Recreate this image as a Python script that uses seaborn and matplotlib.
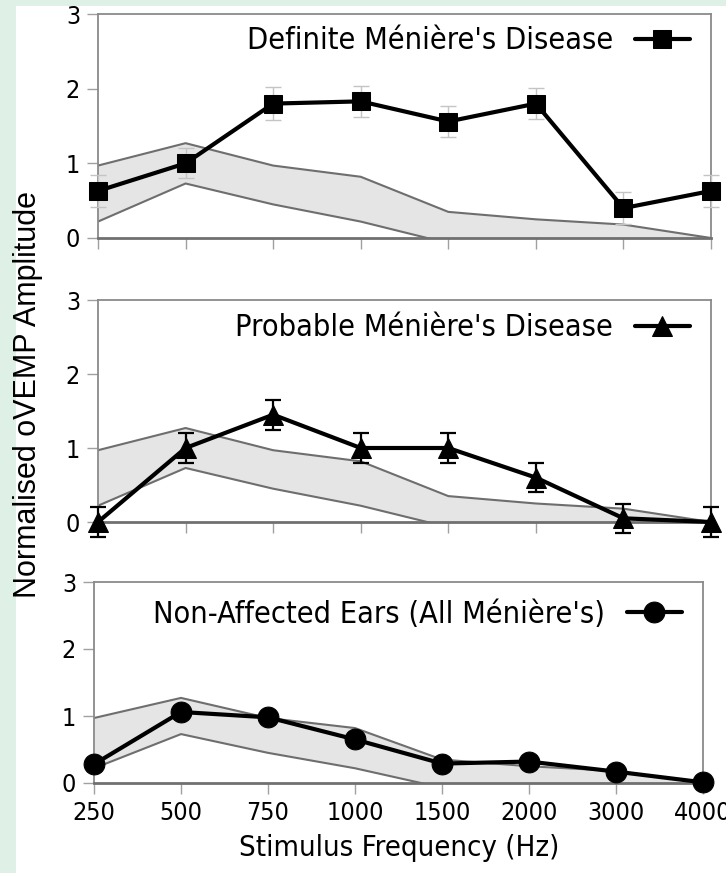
import pandas as pd
import seaborn as sns
import matplotlib.pyplot as plt
from matplotlib.patches import Rectangle

freqs = ["250", "500", "750", "1000", "1500", "2000", "3000", "4000"]

# normal range (shaded band)
band_upper = [0.97, 1.27, 0.97, 0.82, 0.35, 0.25, 0.18, 0.0]
band_lower = [0.22, 0.73, 0.45, 0.22, -0.07, -0.2, -0.3, -0.4]

definite = [0.63, 1.00, 1.80, 1.83, 1.56, 1.80, 0.40, 0.63]
definite_err = [0.22, 0.20, 0.22, 0.21, 0.21, 0.21, 0.21, 0.22]

probable = [0.00, 1.00, 1.45, 1.00, 1.00, 0.60, 0.05, 0.00]
probable_err = [0.20, 0.20, 0.20, 0.20, 0.20, 0.20, 0.20, 0.20]

nonaffected = [0.28, 1.06, 0.98, 0.65, 0.29, 0.32, 0.17, 0.01]
nonaffected_err = [0.07, 0.07, 0.06, 0.07, 0.06, 0.06, 0.06, 0.05]

panels = [
    ("Definite Ménière's Disease", definite, definite_err, "s", 12.5, "#c4c4c4", 1.0),
    ("Probable Ménière's Disease", probable, probable_err, "^", 15, "black", 1.6),
    ("Non-Affected Ears (All Ménière's)", nonaffected, nonaffected_err, "o", 15, "black", 1.6),
]

sns.set_style("white")
plt.rcParams["font.family"] = ["DejaVu Sans"]
plt.rcParams["font.stretch"] = "condensed"
plt.rcParams["text.color"] = "black"
plt.rcParams["ytick.labelcolor"] = "black"
plt.rcParams["xtick.labelcolor"] = "black"

fig = plt.figure(figsize=(7.26, 8.73), dpi=100)
fig.patch.set_facecolor("#dff0e6")
fig.patches.append(Rectangle((16 / 726, 0), 1, 1 - 6 / 873, transform=fig.transFigure,
                             facecolor="white", edgecolor="none", zorder=-10))

positions = [
    [98 / 726, 1 - 238 / 873, 613 / 726, 224 / 873],
    [98 / 726, 1 - 522 / 873, 613 / 726, 222 / 873],
    [94 / 726, 1 - 783 / 873, 609 / 726, 201 / 873],
]
legend_y = [0.88, 0.875, 0.84]

idx = list(range(len(freqs)))
for i, (name, vals, errs, mk, ms, ecol, elw) in enumerate(panels):
    ax = fig.add_axes(positions[i])
    ax.set_facecolor("white")

    # shaded normal band
    ax.fill_between(idx, band_lower, band_upper, color="#e5e5e5", lw=0, zorder=1)
    ax.plot(idx, band_upper, color="#6e6e6e", lw=1.5, zorder=2)
    ax.plot(idx, band_lower, color="#6e6e6e", lw=1.5, zorder=2)

    df = pd.DataFrame({"x": idx, "y": vals})
    ax.errorbar(idx, vals, yerr=errs, fmt="none", ecolor=ecol, elinewidth=elw,
                capsize=6, capthick=elw, zorder=3, clip_on=False)
    sns.lineplot(data=df, x="x", y="y", ax=ax, color="black", lw=3, marker=mk,
                 markersize=ms, markeredgecolor="black", label=name, zorder=4,
                 clip_on=False)

    ax.set_xlim(0, 7)
    ax.set_ylim(0, 3)
    ax.set_yticks([0, 1, 2, 3])
    ax.set_xticks(idx)
    if i == 2:
        ax.set_xticklabels(freqs)
    else:
        ax.set_xticklabels([])
    ax.set_xlabel("")
    ax.set_ylabel("")
    ax.tick_params(axis="both", which="both", direction="out", length=8, width=1,
                   color="#a0a0a0", labelsize=18, pad=5, bottom=True, left=True)
    for s in ax.spines.values():
        s.set_color("#8a8a8a")
        s.set_linewidth(1.3)
    ax.spines["bottom"].set_color("#707070")
    ax.spines["bottom"].set_linewidth(2)

    leg = ax.legend(loc="center right", bbox_to_anchor=(1.0, legend_y[i]), frameon=False,
                    markerfirst=False, fontsize=22, handlelength=1.8, borderaxespad=0.3,
                    handletextpad=0.7)

fig.text(0.038, 0.548, "Normalised oVEMP Amplitude", rotation=90, ha="center", va="center",
         fontsize=22, family=["Liberation Sans", "DejaVu Sans"], stretch="normal")
fig.text(0.55, 0.029, "Stimulus Frequency (Hz)", ha="center", va="center", fontsize=21)

fig.savefig("out.png", dpi=100, facecolor=fig.get_facecolor())
